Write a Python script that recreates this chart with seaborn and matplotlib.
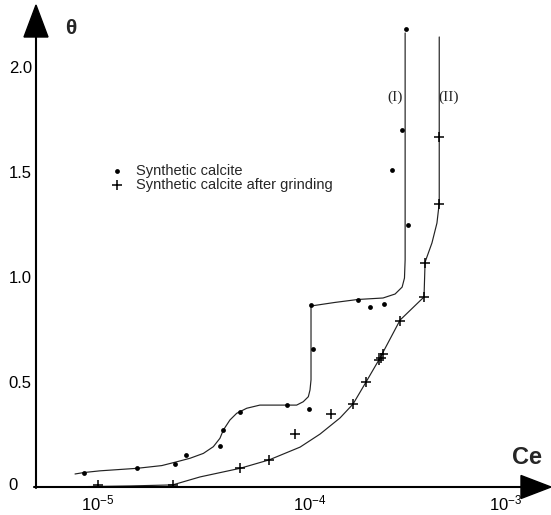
import matplotlib
matplotlib.use("Agg")
import matplotlib.pyplot as plt
import matplotlib.transforms as mtransforms
from matplotlib.patches import Polygon
from matplotlib.lines import Line2D
import seaborn as sns
import pandas as pd

# ---------------- data ----------------
dots_ce = [8.6e-6, 1.52e-5, 2.31e-5, 2.6e-5, 3.76e-5, 3.9e-5, 4.68e-5, 7.8e-5, 9.9e-5,
           1.03e-4, 1.01e-4, 1.68e-4, 1.92e-4, 2.24e-4, 2.44e-4, 2.71e-4, 2.84e-4, 2.89e-4]
dots_theta = [0.068, 0.089, 0.108, 0.152, 0.195, 0.27, 0.358, 0.39, 0.37,
              0.657, 0.867, 0.89, 0.857, 0.87, 1.51, 1.70, 2.18, 1.248]

plus_ce = [1.0e-5, 2.25e-5, 4.68e-5, 6.43e-5, 8.5e-5, 1.26e-4, 1.59e-4, 1.84e-4,
           2.12e-4, 2.16e-4, 2.21e-4, 2.66e-4, 3.45e-4, 3.49e-4, 4.07e-4, 4.07e-4]
plus_theta = [0.01, 0.01, 0.089, 0.129, 0.252, 0.349, 0.395, 0.50,
              0.605, 0.616, 0.635, 0.789, 0.903, 1.068, 1.349, 1.668]

curve1_ce = [7.79e-6, 8.6e-6, 1.022e-5, 1.53e-5, 2.0e-5, 2.35e-5, 2.72e-5, 3.14e-5,
             3.50e-5, 3.76e-5, 3.90e-5, 4.19e-5, 4.51e-5, 5.03e-5, 5.80e-5, 7.76e-5,
             8.65e-5, 9.29e-5, 9.82e-5, 1.0e-4, 1.011e-4, 1.011e-4, 1.313e-4, 1.683e-4,
             2.21e-4, 2.52e-4, 2.72e-4, 2.79e-4, 2.81e-4, 2.81e-4]
curve1_theta = [0.062, 0.069, 0.077, 0.089, 0.102, 0.120, 0.137, 0.160,
                0.192, 0.232, 0.271, 0.319, 0.351, 0.375, 0.390, 0.390,
                0.390, 0.406, 0.430, 0.462, 0.51, 0.862, 0.879, 0.893,
                0.90, 0.919, 0.952, 0.995, 1.081, 2.162]

curve2_ce = [8.97e-6, 1.42e-5, 2.25e-5, 3.03e-5, 4.68e-5, 6.41e-5, 8.98e-5, 1.115e-4,
             1.386e-4, 1.596e-4, 1.838e-4, 2.138e-4, 2.66e-4, 3.45e-4, 3.49e-4, 3.76e-4,
             3.97e-4, 4.07e-4, 4.07e-4]
curve2_theta = [0.002, 0.005, 0.010, 0.048, 0.089, 0.129, 0.190, 0.252,
                0.329, 0.395, 0.50, 0.614, 0.795, 0.905, 1.071, 1.162,
                1.257, 1.352, 2.143]

series_names = ["Synthetic calcite", "Synthetic calcite after grinding"]
curve_labels = ["(I)", "(II)"]
ytick_vals = [0, 0.5, 1.0, 1.5, 2.0]
ytick_labels = ["0", "0.5", "1.0", "1.5", "2.0"]
xtick_vals = [1e-5, 1e-4, 1e-3]
xtick_labels = [r"10$^{-5}$", r"10$^{-4}$", r"10$^{-3}$"]

# ---------------- figure ----------------
sns.set_style("white")
plt.rcParams["font.family"] = ["Liberation Sans", "DejaVu Sans"]
plt.rcParams["mathtext.fontset"] = "custom"
plt.rcParams["mathtext.rm"] = "Liberation Sans"
plt.rcParams["mathtext.it"] = "Liberation Sans"
plt.rcParams["mathtext.bf"] = "Liberation Sans:bold"

W, H = 551, 515
fig = plt.figure(figsize=(W / 100, H / 100), dpi=100)
ax = fig.add_axes([36 / W, 28 / H, 515 / W, 482 / H])
ax.set_xscale("log")
ax.set_xlim(10 ** -5.2925, 10 ** (-5 + 453 / 212))
ax.set_ylim(0, 482 / 210)
for s in ax.spines.values():
    s.set_visible(False)

df_c1 = pd.DataFrame({"Ce": curve1_ce, "theta": curve1_theta})
df_c2 = pd.DataFrame({"Ce": curve2_ce, "theta": curve2_theta})
sns.lineplot(data=df_c1, x="Ce", y="theta", sort=False, estimator=None,
             color="#222222", lw=0.85, ax=ax)
sns.lineplot(data=df_c2, x="Ce", y="theta", sort=False, estimator=None,
             color="#222222", lw=0.85, ax=ax)

df_d = pd.DataFrame({"Ce": dots_ce, "theta": dots_theta})
df_p = pd.DataFrame({"Ce": plus_ce, "theta": plus_theta})
sns.scatterplot(data=df_d, x="Ce", y="theta", marker="o", s=12, color="black",
                linewidth=0, ax=ax, label=series_names[0], zorder=5)
sns.scatterplot(data=df_p, x="Ce", y="theta", marker="+", s=45, color="black",
                linewidth=1.1, ax=ax, label=series_names[1], zorder=5)

ax.set_xlabel("")
ax.set_ylabel("")

# ticks
ax.minorticks_off()
ax.set_xticks(xtick_vals)
ax.set_xticklabels(xtick_labels)
ax.set_yticks(ytick_vals)
ax.set_yticklabels(ytick_labels)
ax.tick_params(axis="both", direction="in", length=5, width=1.5, color="black",
               labelsize=12, labelcolor="black")
ax.tick_params(axis="x", pad=5)
ax.tick_params(axis="y", pad=3)
xl = ax.get_xticklabels()
xl[2].set_ha("right")
yl = ax.get_yticklabels()
yl[0].set_transform(yl[0].get_transform() +
                    mtransforms.ScaledTranslation(-14 / 100, 3 / 100, fig.dpi_scale_trans))


def fx(x):
    return x / W


def fy(y):
    return (H - y) / H


# axis lines with arrows (figure pixel coordinates)
fig.add_artist(Line2D([fx(34), fx(524)], [fy(487), fy(487)], color="black", lw=1.5))
fig.add_artist(Line2D([fx(36), fx(36)], [fy(488), fy(35)], color="black", lw=1.5))
fig.add_artist(Polygon([(fx(521), fy(475.5)), (fx(551), fy(487)), (fx(521), fy(498.5))],
                       closed=True, color="black", transform=fig.transFigure))
fig.add_artist(Polygon([(fx(24), fy(37)), (fx(36), fy(5)), (fx(48), fy(37))],
                       closed=True, color="black", transform=fig.transFigure))

# axis titles
fig.text(fx(71), fy(29), "θ", fontsize=15, fontweight="bold", ha="center", va="center")
fig.text(fx(527), fy(458), "Ce", fontsize=17, fontweight="bold", ha="center", va="center")

# curve labels
fig.text(fx(395), fy(97), curve_labels[0], fontsize=11, family="Liberation Serif",
         ha="center", va="center")
fig.text(fx(449), fy(97), curve_labels[1], fontsize=11, family="Liberation Serif",
         ha="center", va="center")

# legend
leg = ax.legend(loc="upper left", bbox_to_anchor=(fx(113), fy(164)),
                bbox_transform=fig.transFigure, frameon=False, fontsize=10.5,
                handlelength=0.6, handletextpad=1.0, labelspacing=0.0,
                borderpad=0, borderaxespad=0)

fig.savefig("out.png", dpi=100)
